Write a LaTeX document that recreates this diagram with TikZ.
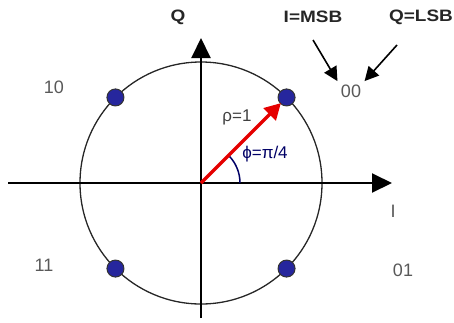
\documentclass[tikz,border=0pt]{standalone}
\usepackage{fontspec}
\setmainfont{Liberation Sans}
\usetikzlibrary{arrows.meta,calc}

\begin{document}
\begin{tikzpicture}[
    x=1pt, y=-1pt,
    axis/.style={line width=2pt, -{Triangle[length=20pt, width=19pt]}},
    hint/.style={line width=1.6pt, -{Triangle[length=14pt, width=14pt]}},
    vec/.style={line width=3.2pt, red!90!black, -{Triangle[length=16pt, width=17pt]}, shorten >=-1pt},
    sym/.style={circle, draw=black!80, line width=1pt, fill=blue!55!black!85, minimum size=17pt, inner sep=0pt},
    bits/.style={font=\fontsize{18}{18}\selectfont, text=black!65},
    head/.style={font=\bfseries\fontsize{16.5}{17}\selectfont, text=black!85, xscale=1.15, transform shape},
    greek/.style={font=\fontsize{17}{17}\selectfont}
    ]
    \useasboundingbox (0,0) rectangle (454,322);
    \coordinate (o) at (201,183);
    \coordinate (west) at (8,183);
    \coordinate (east) at (392,183);
    \coordinate (south) at (201,318);
    \coordinate (north) at (201,38);
    \draw[line width=1.3pt, black!85] (o) circle (121);
    \draw[axis] (west) -- (east);
    \draw[axis] (south) -- (north);
    \node[sym] (s00) at ($(o)+(-45:121)$) {};
    \node[sym] (s10) at ($(o)+(-135:121)$) {};
    \node[sym] (s11) at ($(o)+(135:121)$) {};
    \node[sym] (s01) at ($(o)+(45:121)$) {};
    \draw[line width=1.5pt, blue!40!black] ($(o)+(39,0)$) arc[start angle=0, end angle=-45, radius=39];
    \draw[vec] (o) -- (s00);

    \node[head] (qlab) at (178,17) {Q};
    \node[head] (msb) at (313,17) {I=MSB};
    \node[head] (lsb) at (421,17) {Q=LSB};
    \node[bits] (b00) at (351,91) {00};
    \node[bits] (b10) at (54,87) {10};
    \node[bits] (b11) at (44,265) {11};
    \node[bits] (b01) at (403,270) {01};
    \node[bits] (ilab) at (393,211) {I};
    \node[greek, text=black!75] (rho) at (237,117) {ρ=1};
    \node[greek, text=blue!40!black] (phi) at (265,154) {ϕ=π/4};

    \coordinate (msbend) at (313,40);
    \coordinate (lsbend) at (397,45);
    \draw[hint] (msbend) -- (b00.north west);
    \draw[hint] (lsbend) -- (b00.north east);
\end{tikzpicture}
\end{document}
